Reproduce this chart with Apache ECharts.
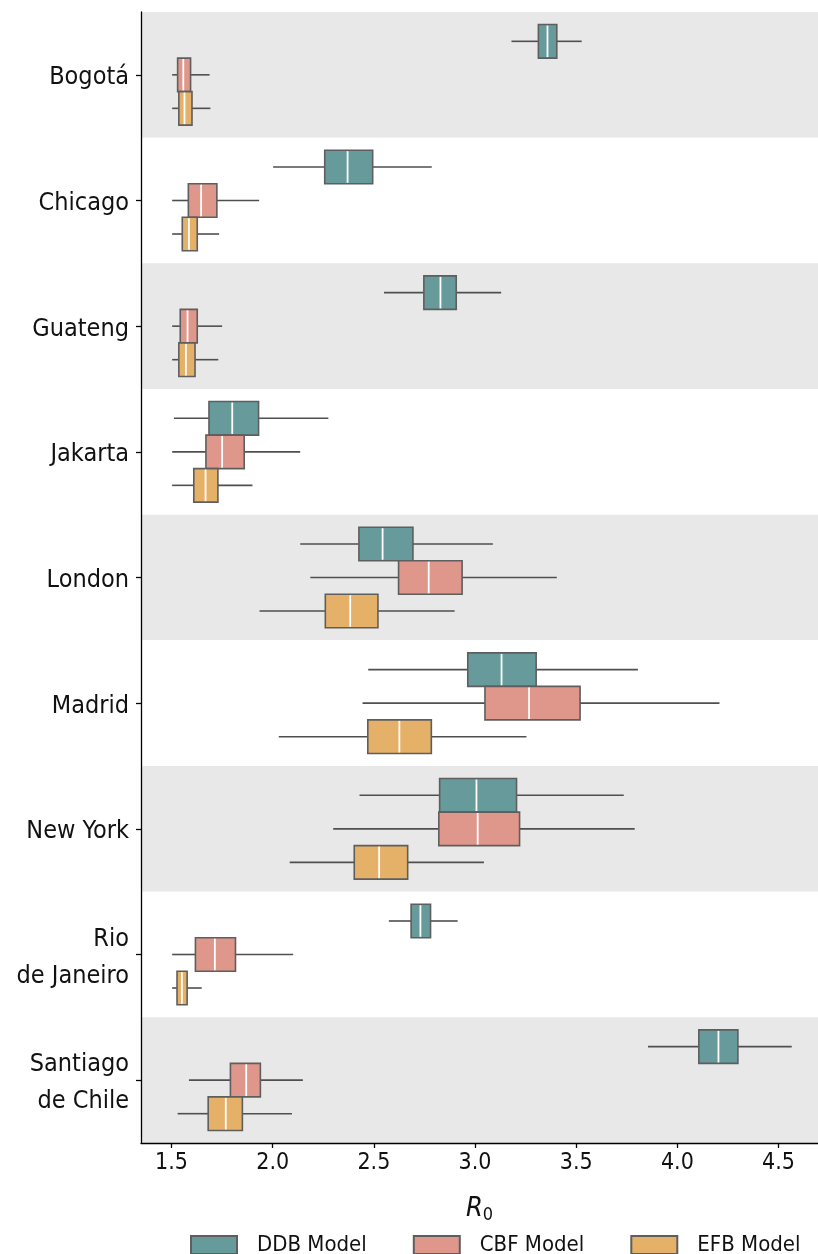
<!DOCTYPE html>
<html>
<head>
<meta charset="utf-8">
<script src="https://cdn.jsdelivr.net/npm/echarts@6/dist/echarts.min.js"></script>
<style>
  html, body { margin: 0; padding: 0; background: #ffffff; }
  #chart { width: 818px; height: 1254px; }
</style>
</head>
<body>
<div id="chart"></div>
<script>
// Cities shown on the vertical axis (top to bottom)
const cities = ['Bogotá', 'Chicago', 'Guateng', 'Jakarta', 'London', 'Madrid', 'New York', 'Rio\nde Janeiro', 'Santiago\nde Chile'];
const models = ['DDB Model', 'CBF Model', 'EFB Model'];
const modelColors = ['#679b9b', '#df978b', '#e5b068'];

// R0 box statistics per city: [whisker low, Q1, median, Q3, whisker high]
const ddb = [
  [3.18, 3.313, 3.358, 3.404, 3.527],
  [2.002, 2.257, 2.370, 2.494, 2.786],
  [2.550, 2.747, 2.829, 2.907, 3.129],
  [1.512, 1.685, 1.800, 1.930, 2.275],
  [2.136, 2.426, 2.543, 2.693, 3.088],
  [2.472, 2.964, 3.131, 3.302, 3.805],
  [2.429, 2.825, 3.007, 3.205, 3.735],
  [2.574, 2.684, 2.730, 2.780, 2.914],
  [3.855, 4.106, 4.203, 4.299, 4.565]
];
const cbf = [
  [1.503, 1.530, 1.558, 1.594, 1.688],
  [1.503, 1.583, 1.646, 1.724, 1.933],
  [1.503, 1.543, 1.579, 1.627, 1.750],
  [1.503, 1.670, 1.750, 1.859, 2.136],
  [2.186, 2.622, 2.771, 2.936, 3.404],
  [2.444, 3.049, 3.267, 3.519, 4.208],
  [2.299, 2.821, 3.013, 3.220, 3.789],
  [1.503, 1.618, 1.714, 1.816, 2.101],
  [1.586, 1.791, 1.869, 1.939, 2.149]
];
const efb = [
  [1.503, 1.536, 1.564, 1.601, 1.692],
  [1.503, 1.553, 1.586, 1.627, 1.735],
  [1.503, 1.536, 1.571, 1.616, 1.731],
  [1.503, 1.610, 1.668, 1.729, 1.900],
  [1.935, 2.260, 2.383, 2.520, 2.899],
  [2.030, 2.470, 2.626, 2.784, 3.254],
  [2.084, 2.403, 2.526, 2.667, 3.044],
  [1.503, 1.527, 1.551, 1.577, 1.649],
  [1.530, 1.681, 1.768, 1.850, 2.095]
];
const xTicks = [1.5, 2.0, 2.5, 3.0, 3.5, 4.0, 4.5];

const FONT = '"DejaVu Sans Condensed", "Liberation Sans Narrow", Roboto, sans-serif';
const allStats = [ddb, cbf, efb];

// Draws one horizontal box: whiskers, box, white median line
function makeRenderer(slot) {
  return function (params, api) {
    const cat = api.value(0);
    const lo = api.coord([api.value(1), cat]);
    const q1 = api.coord([api.value(2), cat]);
    const md = api.coord([api.value(3), cat]);
    const q3 = api.coord([api.value(4), cat]);
    const hi = api.coord([api.value(5), cat]);
    const band = api.size([0, 1])[1];
    const h = band * 0.8 / 3;
    const cy = lo[1] + (slot - 1) * h;
    const top = cy - h / 2;
    const color = modelColors[slot];
    return {
      type: 'group',
      children: [
        { type: 'line', shape: { x1: lo[0], y1: cy, x2: q1[0], y2: cy },
          style: { stroke: '#4f4f4f', lineWidth: 1.6 } },
        { type: 'line', shape: { x1: q3[0], y1: cy, x2: hi[0], y2: cy },
          style: { stroke: '#4f4f4f', lineWidth: 1.6 } },
        { type: 'rect', shape: { x: q1[0], y: top, width: q3[0] - q1[0], height: h },
          style: { fill: color, stroke: '#5e5e5e', lineWidth: 1.6 } },
        { type: 'line', shape: { x1: md[0], y1: top + 1, x2: md[0], y2: top + h - 1 },
          style: { stroke: '#ffffff', lineWidth: 1.8 } }
      ]
    };
  };
}

const series = models.map(function (name, slot) {
  return {
    name: name,
    type: 'custom',
    renderItem: makeRenderer(slot),
    itemStyle: { color: modelColors[slot], borderColor: '#5e5e5e', borderWidth: 1.5 },
    encode: { x: [1, 2, 3, 4, 5], y: 0 },
    data: allStats[slot].map(function (s, i) { return [i].concat(s); }),
    z: 3
  };
});

const chart = echarts.init(document.getElementById('chart'), null, { renderer: 'canvas' });
chart.setOption({
  animation: false,
  backgroundColor: '#ffffff',
  grid: { left: 141, right: 0, top: 12, bottom: 111 },
  xAxis: {
    type: 'value',
    min: 1.349,
    max: 4.695,
    interval: 0.5,
    axisLine: { show: true, onZero: false, lineStyle: { color: '#000', width: 1.3 } },
    axisTick: { show: true, length: 5, lineStyle: { color: '#000', width: 1.3 },
      customValues: xTicks },
    axisLabel: {
      customValues: xTicks,
      color: '#111', fontFamily: FONT, fontSize: 23, margin: 9,
      formatter: function (v) { return v.toFixed(1); }
    },
    splitLine: { show: false },
    name: '{r|R}{s|0}',
    nameLocation: 'middle',
    nameGap: 51,
    nameTextStyle: {
      rich: {
        r: { fontFamily: FONT, fontStyle: 'italic', fontSize: 27, color: '#111' },
        s: { fontFamily: FONT, fontSize: 18, color: '#111', padding: [12, 0, 0, 0] }
      }
    }
  },
  yAxis: {
    type: 'category',
    data: cities,
    inverse: true,
    axisLine: { show: true, lineStyle: { color: '#000', width: 1.3 } },
    axisTick: { show: true, alignWithLabel: true, length: 5, lineStyle: { color: '#000', width: 1.3 } },
    axisLabel: {
      margin: 12,
      align: 'right',
      formatter: function (v) {
        return v.split('\n').map(function (s) { return '{c|' + s + '}'; }).join('\n');
      },
      rich: {
        c: { color: '#111', fontFamily: FONT, fontSize: 25, lineHeight: 37, padding: [6, 0, 0, 0], align: 'right' }
      }
    },
    splitLine: { show: false },
    splitArea: { show: true, areaStyle: { color: ['#e8e8e8', '#ffffff'] } }
  },
  legend: {
    data: models,
    left: 190,
    top: 1234,
    padding: 0,
    itemWidth: 46,
    itemHeight: 18,
    itemGap: 46,
    icon: 'rect',
    textStyle: { fontFamily: FONT, fontSize: 22, color: '#111', padding: [0, 0, 0, 15] }
  },
  series: series
});
</script>
</body>
</html>
